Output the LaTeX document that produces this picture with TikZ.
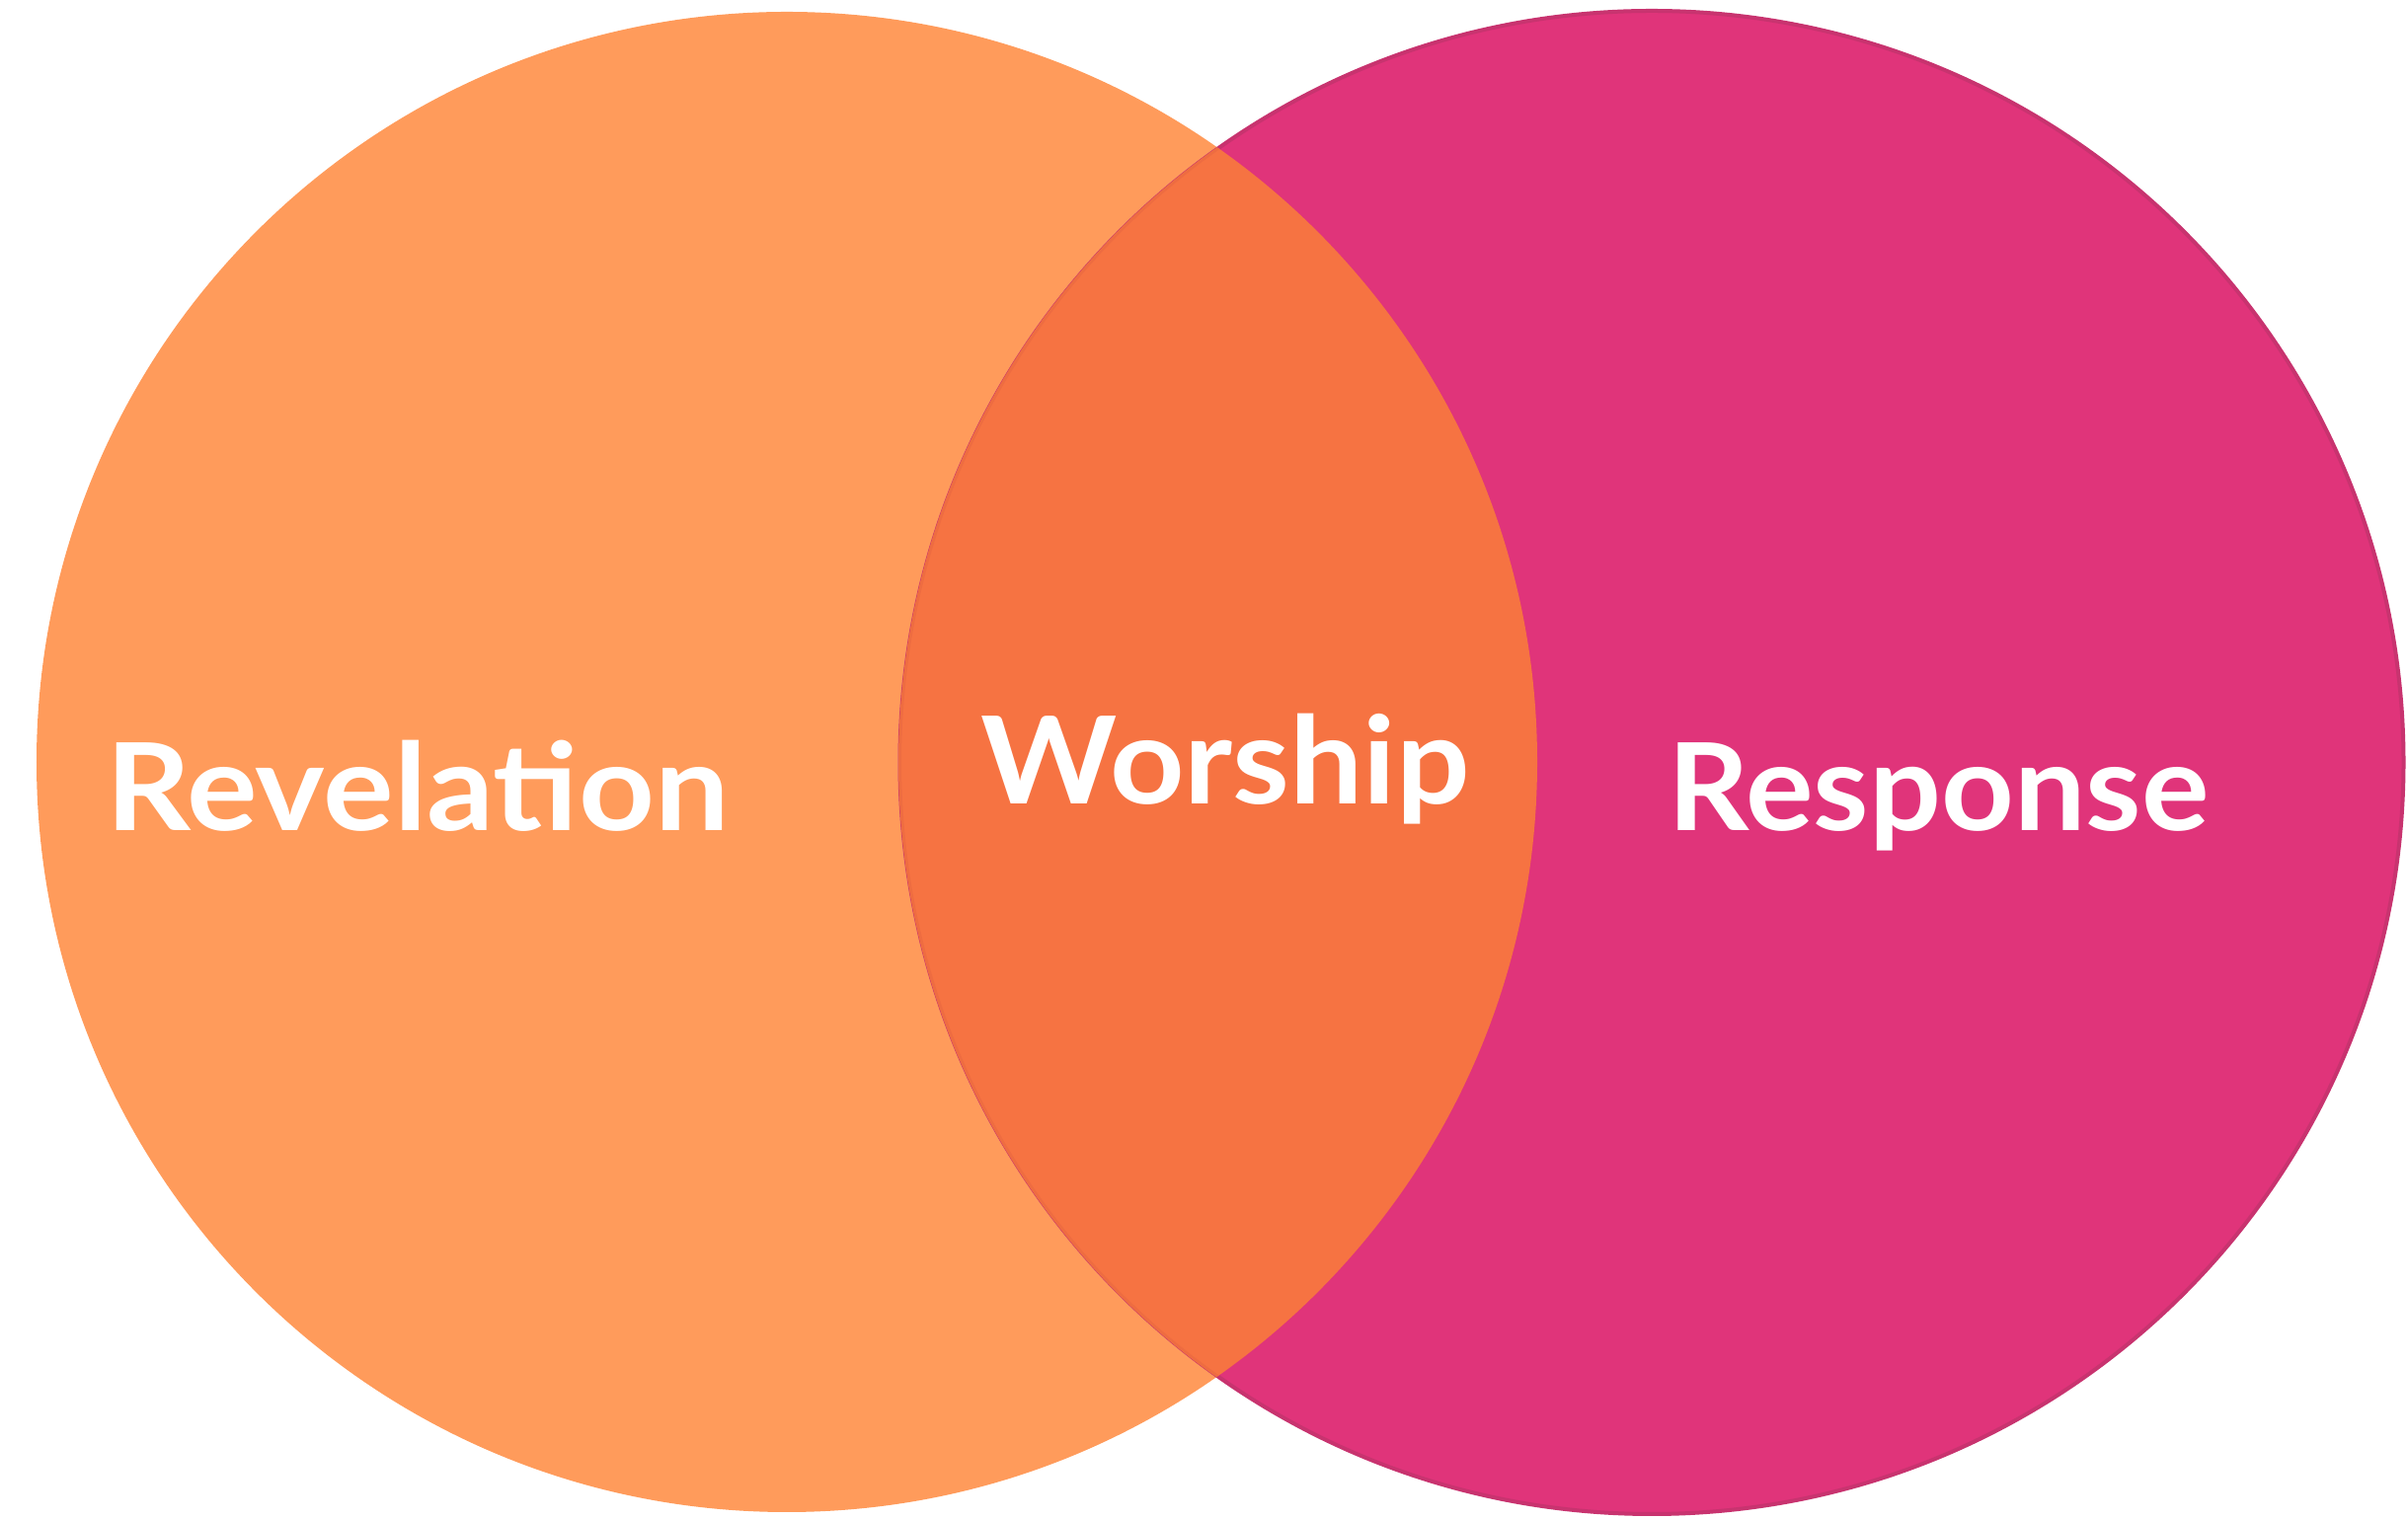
\documentclass[tikz,border=0pt]{standalone}
\usepackage{fontspec}
\setmainfont{Lato}
\definecolor{revorange}{HTML}{FF9B5B}
\definecolor{respink}{HTML}{E0347A}
\definecolor{respinkedge}{HTML}{C8336F}
\definecolor{overlapc}{HTML}{F67342}
\definecolor{overlapedge}{HTML}{EE6C41}
\tikzset{
  label text/.style={inner sep=0pt, anchor=base west, text=white, font=\fontsize{35}{40}\selectfont\bfseries},
}
\begin{document}
\begin{tikzpicture}
\useasboundingbox (0,0) rectangle (24.39,15.39);
\coordinate (lc) at (7.97,7.67);
\coordinate (rc) at (16.73,7.665);
\fill[revorange] (lc) circle (7.60);
\fill[respink] (rc) circle (7.615);
\draw[respinkedge, line width=0.4mm] (rc) circle (7.615);
\begin{scope}
  \clip (lc) circle (7.60);
  \fill[overlapc] (rc) circle (7.615);
  \draw[overlapedge, line width=0.3mm] (rc) circle (7.615);
\end{scope}
\node[label text, xscale=1.09] (rev) at (1.065,6.97) {Revelation};
\node[label text, xscale=1.07] (wor) at (9.93,7.24) {Worship};
\node[label text, xscale=1.045] (res) at (16.89,6.97) {Response};
\end{tikzpicture}
\end{document}
